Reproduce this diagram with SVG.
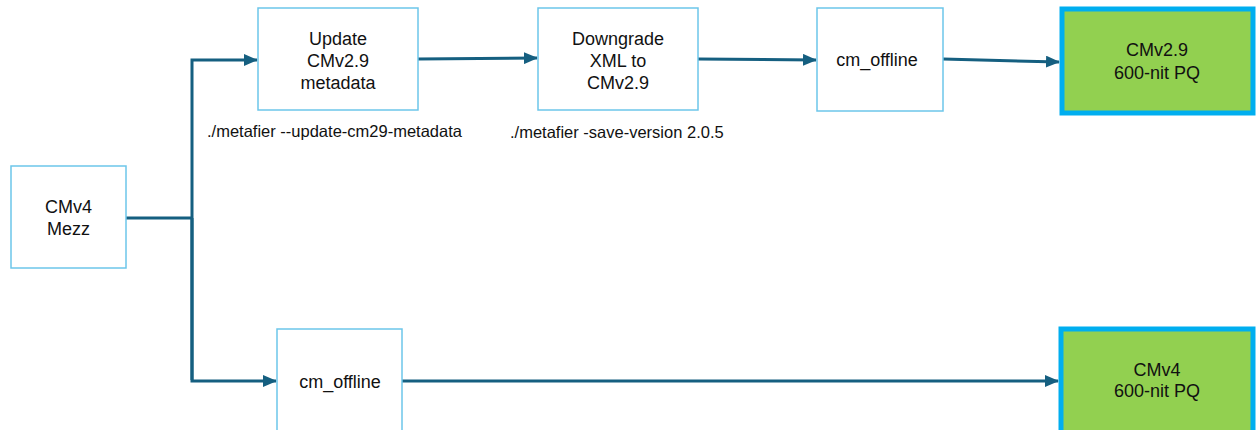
<svg xmlns="http://www.w3.org/2000/svg" width="1257" height="430" viewBox="0 0 1257 430">
<style>
.box{fill:#fff;stroke:#6cc6ea;stroke-width:1.5}
.out{fill:#92d050;stroke:#00aeef;stroke-width:5}
.t{font-family:"Liberation Sans",Arial,sans-serif;font-size:18px;fill:#111;text-anchor:middle}
.l{font-family:"Liberation Sans",Arial,sans-serif;font-size:16.5px;fill:#111}
.c{fill:none;stroke:#155f80;stroke-width:3}
</style>
<defs>
<marker id="ah" markerWidth="14" markerHeight="12" refX="13" refY="6" orient="auto" markerUnits="userSpaceOnUse" viewBox="0 0 14 12">
<path d="M0,0 L14,6 L0,12 z" fill="#155f80"/>
</marker>
</defs>
<rect width="1257" height="430" fill="#fff"/>
<g id="connectors">
<path class="c" d="M126,218 H192"/>
<path class="c" d="M192,380 V60 H257" marker-end="url(#ah)"/>
<path class="c" d="M192,218 V381 H276" marker-end="url(#ah)"/>
<path class="c" d="M418,59 L537,58" marker-end="url(#ah)"/>
<path class="c" d="M698,59 L816,60" marker-end="url(#ah)"/>
<path class="c" d="M943,59 L1059,62" marker-end="url(#ah)"/>
<path class="c" d="M402,381 L1058,381" marker-end="url(#ah)"/>
</g>
<g id="n_mezz"><rect class="box" x="11" y="166" width="115" height="102"/><text class="t" x="68.5" y="213">CMv4</text><text class="t" x="68.5" y="235">Mezz</text></g>
<g id="n_update"><rect class="box" x="258" y="8" width="160" height="102"/><text class="t" x="338" y="44.5">Update</text><text class="t" x="338" y="66.5">CMv2.9</text><text class="t" x="338" y="88.5">metadata</text></g>
<g id="n_downgrade"><rect class="box" x="538" y="8" width="160" height="102"/><text class="t" x="618" y="44.5">Downgrade</text><text class="t" x="618" y="66.5">XML to</text><text class="t" x="618" y="88.5">CMv2.9</text></g>
<g id="n_cmoff1"><rect class="box" x="817" y="8" width="126" height="103"/><text class="t" x="877" y="66">cm_offline</text></g>
<g id="n_out1"><rect class="out" x="1062" y="9" width="191" height="104"/><text class="t" x="1157" y="56">CMv2.9</text><text class="t" x="1157" y="79">600-nit PQ</text></g>
<g id="n_cmoff2"><rect class="box" x="277" y="329" width="125" height="110"/><text class="t" x="340" y="388">cm_offline</text></g>
<g id="n_out2"><rect class="out" x="1061" y="329" width="192" height="110"/><text class="t" x="1157" y="376">CMv4</text><text class="t" x="1157" y="397">600-nit PQ</text></g>
<g id="labels">
<text class="l" x="207" y="137">./metafier --update-cm29-metadata</text>
<text class="l" x="510" y="137.5">./metafier -save-version 2.0.5</text>
</g>
</svg>
